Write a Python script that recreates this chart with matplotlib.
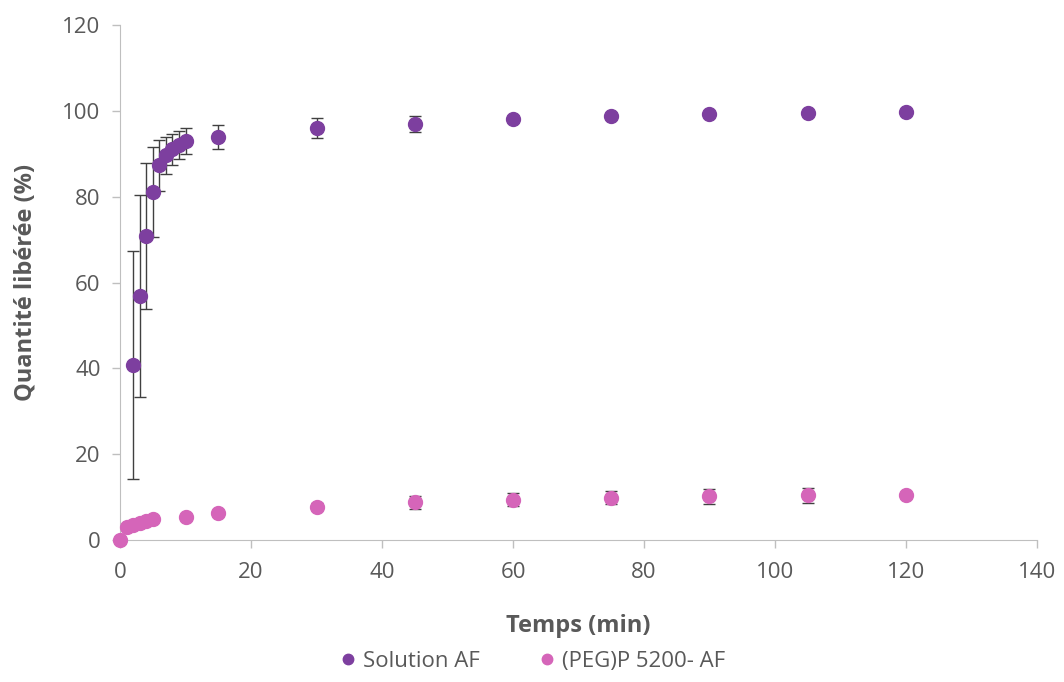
import numpy as np
import matplotlib
matplotlib.use('Agg')
import matplotlib.pyplot as plt

# release data (time in min, % released)
t_sol = [2, 3, 4, 5, 6, 7, 8, 9, 10, 15, 30, 45, 60, 75, 90, 105, 120]
y_sol = [40.8, 56.8, 70.9, 81.1, 87.3, 89.6, 91.0, 92.0, 92.9, 94.0, 96.0, 96.9, 98.1, 98.7, 99.2, 99.5, 99.8]
e_sol = [26.5, 23.5, 17.0, 10.4, 6.0, 4.2, 3.6, 3.2, 3.0, 2.8, 2.4, 1.8, 0.6, 0.5, 0.4, 0.4, 0.3]

t_peg = [0, 1, 2, 3, 4, 5, 10, 15, 30, 45, 60, 75, 90, 105, 120]
y_peg = [0.0, 3.0, 3.5, 4.0, 4.4, 4.8, 5.4, 6.3, 7.8, 8.8, 9.4, 9.9, 10.2, 10.4, 10.4]
e_peg = [0.0, 0.4, 0.4, 0.4, 0.4, 0.4, 0.5, 0.6, 0.9, 1.5, 1.5, 1.5, 1.7, 1.7, 0.5]

purple = '#7D3F9F'
pink = '#D565B9'
grey_text = '#595959'

plt.rcParams['font.family'] = ['Open Sans', 'DejaVu Sans']

fig = plt.figure(figsize=(10.64, 6.82), dpi=100)
ax = fig.add_axes([0.1128, 0.2082, 0.8618, 0.7551])

for t, y, e, c, lab in [(t_sol, y_sol, e_sol, purple, 'Solution AF'),
                        (t_peg, y_peg, e_peg, pink, '(PEG)P 5200- AF')]:
    cont = ax.errorbar(t, y, yerr=e, fmt='o', color=c, markersize=10,
                       ecolor='#404040', elinewidth=1, capsize=4, capthick=1,
                       label=lab, zorder=3)
    cont[0].set_clip_on(False)

ax.set_xlim(0, 140)
ax.set_ylim(0, 120)
ax.set_xticks(np.arange(0, 141, 20))
ax.set_yticks(np.arange(0, 121, 20))

for side in ['top', 'right']:
    ax.spines[side].set_visible(False)
ax.spines['left'].set_color('#BFBFBF')
ax.spines['bottom'].set_color('#BFBFBF')
ax.tick_params(axis='both', colors='#BFBFBF', labelcolor=grey_text,
               labelsize=16, length=6, width=1)
ax.tick_params(axis='x', pad=10)
ax.tick_params(axis='y', pad=8)

ax.set_xlabel('Temps (min)', fontsize=17, fontweight='bold', color=grey_text, labelpad=22)
ax.set_ylabel('Quantité libérée (%)', fontsize=17, fontweight='bold', color=grey_text, labelpad=18)

handles, labels = ax.get_legend_handles_labels()
handles = [h[0] for h in handles]
leg = fig.legend(handles, labels, loc='lower center', bbox_to_anchor=(0.5, -0.015),
                 ncol=2, frameon=False, fontsize=16, markerscale=0.75,
                 handlelength=0.8, handletextpad=0.3, columnspacing=2.6)
for txt in leg.get_texts():
    txt.set_color(grey_text)

fig.savefig('out.png', dpi=100)
